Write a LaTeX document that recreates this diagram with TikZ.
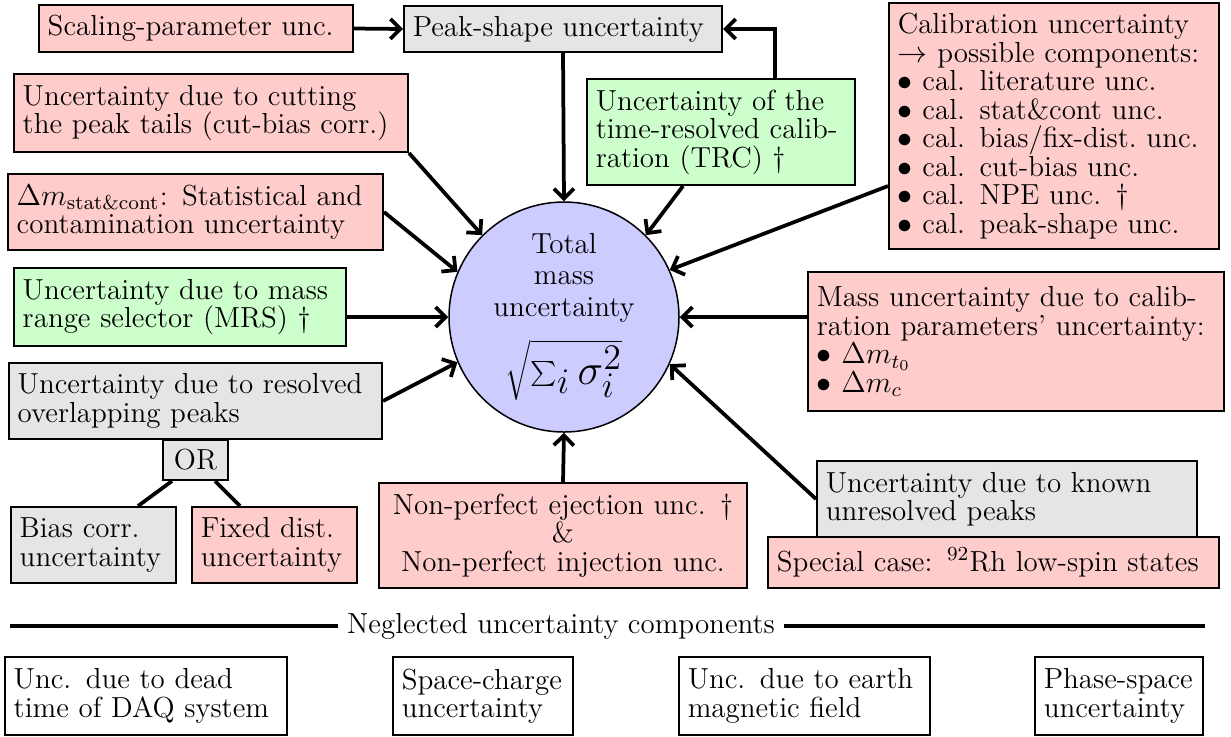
\documentclass[tikz,border=0pt]{standalone}
\usetikzlibrary{calc,arrows.meta}
\definecolor{pk}{RGB}{255,204,204}
\definecolor{gy}{RGB}{229,229,229}
\definecolor{gn}{RGB}{204,255,204}
\definecolor{bl}{RGB}{204,204,255}
\begin{document}
\begin{tikzpicture}[x=0.4pt,y=-0.4pt,
 font=\fontsize{11.6}{11.4}\selectfont,
 box/.style={draw, line width=0.8pt, inner xsep=3.5pt, inner ysep=1pt, align=left,
   execute at begin node={\hyphenpenalty=10000 \exhyphenpenalty=10000 }},
 pinkbox/.style={box, fill=pk},
 graybox/.style={box, fill=gy},
 greenbox/.style={box, fill=gn},
 whitebox/.style={box, fill=white},
 conn/.style={line width=1.5pt, -{Straight Barb[length=4pt,width=8pt]}},
 plainline/.style={line width=1.5pt}]
\useasboundingbox (0,0) rectangle (1231,736);

\node[pinkbox, minimum width=125.6pt, minimum height=18.8pt, text width=118.6pt] (scal) at (196,28.5) {Scaling-parameter unc.};
\node[graybox, minimum width=127.2pt, minimum height=18.4pt, text width=120.2pt] (peak) at (563,29) {Peak-shape uncertainty};
\node[pinkbox, minimum width=157.6pt, minimum height=31.2pt, text width=150.6pt] (cut) at (211,113) {Uncertainty due to cutting\\the peak tails (cut-bias corr.)};
\node[pinkbox, minimum width=150pt, minimum height=30.4pt, text width=143pt] (stat) at (195.5,212) {$\Delta m_{\mathrm{stat\&cont}}$: Statistical and\\contamination uncertainty};
\node[greenbox, minimum width=107.2pt, minimum height=42.4pt, text width=100.2pt] (trc) at (721,132) {Uncertainty of the\\time-resolved calib-\\ration (TRC) \dag};
\node[pinkbox, minimum width=132pt, minimum height=98.4pt, text width=125pt] (cal) at (1054,126) {Calibration uncertainty\\$\rightarrow$ possible components:\\$\bullet$ cal. literature unc.\\$\bullet$ cal. stat\&cont unc.\\$\bullet$ cal. bias/fix-dist.~unc.\\$\bullet$ cal. cut-bias unc.\\$\bullet$ cal. NPE unc. \dag\\$\bullet$ cal. peak-shape unc.};
\node[pinkbox, minimum width=166.4pt, minimum height=55.6pt, text width=159.4pt] (mcal) at (1016,341.5) {Mass uncertainty due to calib-\\ration parameters' uncertainty:\\$\bullet$ $\Delta m_{t_0}$\\$\bullet$ $\Delta m_{c}$};
\node[greenbox, minimum width=132.8pt, minimum height=31.2pt, text width=125.8pt] (mrs) at (180,307) {Uncertainty due to mass\\range selector (MRS) \dag};
\node[graybox, minimum width=149.2pt, minimum height=30.4pt, text width=142.2pt] (res) at (195.5,401) {Uncertainty due to resolved\\overlapping peaks};
\node[graybox, minimum width=26pt, minimum height=16pt, inner xsep=2pt, align=center] (or) at (195.5,460) {OR};
\node[graybox, minimum width=66pt, minimum height=30.4pt, text width=59pt] (bias) at (93.5,545) {Bias corr.\\uncertainty};
\node[pinkbox, minimum width=66pt, minimum height=30.4pt, text width=59pt] (fixed) at (274.5,545) {Fixed dist.\\uncertainty};
\node[pinkbox, minimum width=147.2pt, minimum height=42pt, text width=140.2pt, align=center] (npe) at (563,535.5) {Non-perfect ejection unc. \dag\\\&\\Non-perfect injection unc.};
\node[graybox, minimum width=152pt, minimum height=30.4pt, text width=145pt] (known) at (1007,499) {Uncertainty due to known\\unresolved peaks};
\node[pinkbox, minimum width=180.4pt, minimum height=20.4pt, text width=173.4pt] (spec) at (993.5,562.5) {Special case: $^{92}$Rh low-spin states};

\node[circle, draw, fill=bl, line width=0.6pt, minimum size=92pt, inner sep=0pt, align=center, font=\fontsize{11.6}{12.5}\selectfont] (tot) at (564,317) {Total\\mass\\uncertainty\\[6pt]{\fontsize{19}{20}\selectfont$\sqrt{\sum_i\sigma_i^2}$}};

% connectors
\draw[conn] (scal.east) -- (peak.west);
\draw[conn] (peak.south) -- (tot.north);
\draw[conn] ($(trc.north)+(54,0)$) |- (peak.east);
\draw[conn] (cut.south east) -- (tot.135);
\draw[conn] (stat.east) -- (tot.157);
\draw[conn] (mrs.east |- tot.west) -- (tot.west);
\draw[conn] (res.east) -- (tot.203);
\draw[conn] ($(trc.south)+(-38,0)$) -- (tot.45);
\draw[conn] ($(cal.west)+(0,60)$) -- (tot.24.5);
\draw[conn] (mcal.west |- tot.east) -- (tot.east);
\draw[conn] (known.west) -- (tot.-24);
\draw[conn] (npe.north) -- (tot.south);
\draw[plainline] ($(or.south)+(-23.5,0)$) -- ($(bias.north)+(44.5,0)$);
\draw[plainline] ($(or.south)+(19.5,0)$) -- ($(fixed.north)+(-34.5,0)$);

% neglected
\node (neg) at (561,626) {Neglected uncertainty components};
\coordinate (nl) at (10,626);
\coordinate (nr) at (1205,626);
\draw[line width=1.5pt] (nl) -- (neg.west);
\draw[line width=1.5pt] (neg.east) -- (nr);

\node[whitebox, minimum width=112.8pt, minimum height=31.2pt, text width=105.8pt] (dead) at (146,696) {Unc. due to dead\\time of DAQ system};
\node[whitebox, minimum width=72pt, minimum height=31.2pt, text width=65pt] (space) at (483,696) {Space-charge\\uncertainty};
\node[whitebox, minimum width=100.4pt, minimum height=31.2pt, text width=93.4pt] (earth) at (804.5,696) {Unc. due to earth\\magnetic field};
\node[whitebox, minimum width=67.2pt, minimum height=31.2pt, text width=60.2pt] (phase) at (1119,696) {Phase-space\\uncertainty};
\end{tikzpicture}
\end{document}
